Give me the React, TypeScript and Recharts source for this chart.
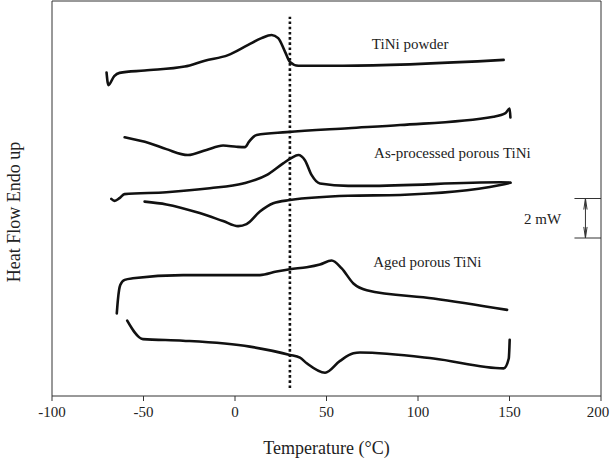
import { LineChart, Line, XAxis, YAxis, ReferenceLine, ReferenceDot, Label } from 'recharts';

// TiNi powder, upper (heating) curve
const powderUpT = [-70.2, -69.2, -66.0, -63.1, -49.4, -27.5, -16.5, -3.8, 7.2, 14.5, 20.0, 23.6, 27.3, 30.0, 34.6, 59.0, 146.8];
const powderUpQ = [8.19, 7.87, 8.10, 8.18, 8.24, 8.34, 8.49, 8.63, 8.89, 9.06, 9.14, 9.06, 8.72, 8.46, 8.36, 8.36, 8.51];
// TiNi powder, lower (cooling) curve
const powderDownT = [-60.3, -46.7, -37.5, -25.7, -15.6, -6.5, 0.8, 5.4, 7.7, 11.8, 28.2, 61.9, 90.2, 141.3, 147.8, 150.1, 150.5];
const powderDownQ = [6.55, 6.40, 6.25, 6.10, 6.23, 6.34, 6.31, 6.30, 6.44, 6.61, 6.68, 6.78, 6.86, 7.07, 7.16, 7.28, 7.05];

// as-processed porous TiNi
const asProcUpT = [-67.6, -65.8, -63.1, -60.4, -37.5, -13.8, 4.4, 17.2, 26.3, 30.9, 34.6, 38.2, 41.9, 46.4, 61.9, 72.0, 145.0, 150.5];
const asProcUpQ = [4.99, 4.94, 5.01, 5.11, 5.16, 5.26, 5.38, 5.59, 5.89, 6.03, 6.10, 5.97, 5.59, 5.38, 5.32, 5.32, 5.41, 5.40];
const asProcDownT = [-49.4, -37.5, -19.3, -6.5, 1.7, 6.3, 13.6, 20.9, 30.0, 61.9, 90.2, 145.0, 150.5];
const asProcDownQ = [4.92, 4.85, 4.63, 4.43, 4.30, 4.35, 4.67, 4.88, 4.96, 5.07, 5.09, 5.34, 5.40];

// aged porous TiNi
const agedUpT = [-64.6, -64.0, -62.7, -60.3, -55.8, -28.4, 13.6, 22.7, 30.0, 39.2, 46.4, 52.8, 58.3, 64.7, 72.0, 108.5, 148.7];
const agedUpQ = [2.09, 2.43, 2.81, 2.94, 2.98, 3.06, 3.06, 3.15, 3.21, 3.26, 3.33, 3.43, 3.23, 2.85, 2.68, 2.47, 2.18];
const agedDownT = [-58.9, -50.3, -28.4, 8.1, 30.0, 35.5, 39.2, 49.2, 57.4, 64.7, 68.3, 108.5, 146.8, 149.6, 150.1];
const agedDownQ = [1.91, 1.44, 1.40, 1.25, 1.04, 0.97, 0.83, 0.59, 0.89, 1.08, 1.10, 0.95, 0.70, 0.95, 1.42];

const xTicks = [-100, -50, 0, 50, 100, 150, 200];
const yTicks = [1, 2, 3, 4, 5, 6, 7, 8, 9];

const dashedT = [30, 30];
const dashedQ = [0.2, 9.6];

const zip = (t: number[], q: number[]) => t.map((x, i) => ({ x, y: q[i] }));

const curves = [
  zip(powderUpT, powderUpQ),
  zip(powderDownT, powderDownQ),
  zip(asProcUpT, asProcUpQ),
  zip(asProcDownT, asProcDownQ),
  zip(agedUpT, agedUpQ),
  zip(agedDownT, agedDownQ),
];

const font = '"Liberation Serif", "Times New Roman", serif';
const textStyle = { fontFamily: font, fill: '#222' };

const renderXTick = (props: any) => {
  const { x, y, payload } = props;
  return (
    <g>
      <text x={x} y={y} dy={12} textAnchor="middle" fontSize={15} style={textStyle}>
        {payload.value}
      </text>
    </g>
  );
};

export default function App() {
  return (
    <div style={{ position: 'absolute', left: 0, top: 0, background: '#fff', fontFamily: font }}>
      <LineChart width={610} height={469} margin={{ top: 1, right: 0, bottom: 0, left: 0 }} style={{ fontFamily: font }}>
        <XAxis
          type="number"
          dataKey="x"
          domain={[-100, 200]}
          ticks={xTicks}
          allowDataOverflow
          height={73}
          stroke="#333"
          tickSize={5}
          tickMargin={4}
          tick={renderXTick}
        >
          <Label
            value="Temperature (°C)"
            position="insideBottom"
            offset={15}
            style={{ ...textStyle, fontSize: 18 }}
          />
        </XAxis>
        <YAxis
          type="number"
          domain={[0, 10]}
          ticks={yTicks}
          allowDataOverflow
          width={52}
          stroke="#333"
          tickSize={-7}
          tick={false}
          label={{
            content: () => (
              <text
                x={0}
                y={0}
                transform="translate(20, 212) rotate(-90)"
                textAnchor="middle"
                style={{ ...textStyle, fontSize: 18 }}
              >
                Heat Flow Endo up
              </text>
            ),
          }}
        />
        <YAxis
          yAxisId="right"
          orientation="right"
          type="number"
          domain={[0, 10]}
          ticks={yTicks}
          width={9}
          stroke="#333"
          tickSize={-6}
          tick={false}
        />
        <ReferenceLine y={10} stroke="#333" />

        {curves.map((d, i) => (
          <Line
            key={i}
            data={d}
            dataKey="y"
            type="monotone"
            stroke="#111"
            strokeWidth={2.6}
            strokeLinejoin="round"
            strokeLinecap="round"
            dot={false}
            isAnimationActive={false}
          />
        ))}
        <Line
          data={zip(dashedT, dashedQ)}
          dataKey="y"
          type="linear"
          stroke="#111"
          strokeWidth={2.6}
          strokeDasharray="2.6 2.6"
          dot={false}
          isAnimationActive={false}
        />

        {/* 2 mW scale bar */}
        <ReferenceLine segment={[{ x: 185.5, y: 5 }, { x: 200, y: 5 }]} stroke="#333" />
        <ReferenceLine segment={[{ x: 185.5, y: 4 }, { x: 200, y: 4 }]} stroke="#333" />
        <ReferenceLine segment={[{ x: 191.5, y: 5 }, { x: 191.5, y: 4 }]} stroke="#333" />
        <ReferenceLine segment={[{ x: 191.5, y: 5 }, { x: 190.6, y: 4.72 }]} stroke="#333" />
        <ReferenceLine segment={[{ x: 191.5, y: 5 }, { x: 192.4, y: 4.72 }]} stroke="#333" />
        <ReferenceLine segment={[{ x: 191.5, y: 4 }, { x: 190.6, y: 4.28 }]} stroke="#333" />
        <ReferenceLine segment={[{ x: 191.5, y: 4 }, { x: 192.4, y: 4.28 }]} stroke="#333" />

        <ReferenceDot x={168.1} y={4.48} r={0} stroke="none"
          label={{ value: '2 mW', position: 'center', fill: '#222', fontSize: 15, fontFamily: font }} />
        <ReferenceDot x={95.7} y={8.91} r={0} stroke="none"
          label={{ value: 'TiNi powder', position: 'center', fill: '#222', fontSize: 15, fontFamily: font }} />
        <ReferenceDot x={118.8} y={6.15} r={0} stroke="none"
          label={{ value: 'As-processed porous TiNi', position: 'center', fill: '#222', fontSize: 15, fontFamily: font }} />
        <ReferenceDot x={105.1} y={3.39} r={0} stroke="none"
          label={{ value: 'Aged porous TiNi', position: 'center', fill: '#222', fontSize: 15, fontFamily: font }} />
      </LineChart>
    </div>
  );
}
